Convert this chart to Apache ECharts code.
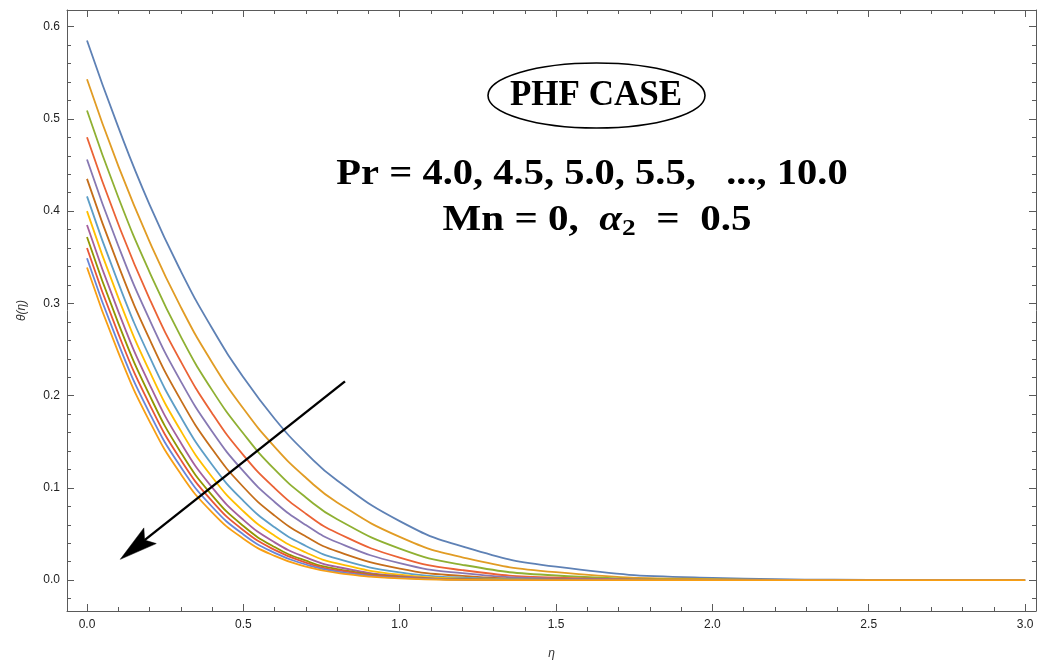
<!DOCTYPE html>
<html><head><meta charset="utf-8">
<script src="https://cdn.jsdelivr.net/npm/echarts@6/dist/echarts.min.js"></script>
<style>html,body{margin:0;padding:0;background:#fff}#c{width:1038px;height:665px}</style>
</head><body><div id="c"></div>
<script>
// ---- data ----
const eta = [0, 0.1, 0.2, 0.3, 0.4, 0.5, 0.6, 0.7, 0.8, 1.0, 1.2, 1.5, 2.0, 2.5, 3.0];
const prLabels = ['4.0','4.5','5.0','5.5','6.0','6.5','7.0','7.5','8.0','8.5','9.0','9.5','10.0'];
const thetaPr40  = [0.585,0.491,0.407,0.335,0.273,0.220,0.175,0.138,0.108,0.064,0.0366,0.0146,0.0026,0.0004,0];
const thetaPr45  = [0.543,0.449,0.367,0.296,0.236,0.186,0.1445,0.111,0.0843,0.0469,0.0248,0.0087,0.0012,0.0001,0];
const thetaPr50  = [0.509,0.415,0.334,0.264,0.206,0.159,0.120,0.0897,0.066,0.0342,0.0167,0.0051,0.0005,0,0];
const thetaPr55  = [0.480,0.386,0.305,0.237,0.181,0.1355,0.0998,0.0721,0.0512,0.0245,0.0109,0.0028,0.0002,0,0];
const thetaPr60  = [0.456,0.3625,0.2824,0.2155,0.1612,0.1181,0.0848,0.0597,0.0411,0.0184,0.0076,0.0017,0.0001,0,0];
const thetaPr65  = [0.435,0.3414,0.2613,0.1952,0.1422,0.1010,0.0700,0.0473,0.0312,0.0126,0.0046,0.0008,0,0,0];
const thetaPr70  = [0.416,0.3222,0.2422,0.1768,0.1251,0.0860,0.0573,0.0371,0.0233,0.0084,0.0027,0.0004,0,0,0];
const thetaPr75  = [0.400,0.3062,0.2265,0.1619,0.1118,0.0747,0.0482,0.0300,0.0181,0.0059,0.0017,0.0002,0,0,0];
const thetaPr80  = [0.385,0.2914,0.2123,0.1489,0.1006,0.0654,0.0410,0.0247,0.0143,0.0043,0.0011,0.0001,0,0,0];
const thetaPr85  = [0.372,0.2787,0.2005,0.1385,0.0920,0.0587,0.0359,0.0211,0.0119,0.0034,0.0008,0,0,0,0];
const thetaPr90  = [0.360,0.2672,0.1905,0.1304,0.0857,0.0541,0.0328,0.0191,0.0107,0.0030,0.0007,0,0,0,0];
const thetaPr95  = [0.349,0.2567,0.1811,0.1226,0.0796,0.0496,0.0296,0.0170,0.0093,0.0025,0.0006,0,0,0,0];
const thetaPr100 = [0.339,0.2470,0.1722,0.1150,0.0735,0.0450,0.0263,0.0148,0.0079,0.0020,0.0004,0,0,0,0];
const xTickLabels = [0, 0.5, 1.0, 1.5, 2.0, 2.5, 3.0];
const yTickLabels = [0, 0.1, 0.2, 0.3, 0.4, 0.5, 0.6];
const arrowFrom = [0.825, 0.2155];
const arrowTo = [0.1064, 0.0226];

// ---- styling ----
const seriesData = [thetaPr40,thetaPr45,thetaPr50,thetaPr55,thetaPr60,thetaPr65,thetaPr70,thetaPr75,thetaPr80,thetaPr85,thetaPr90,thetaPr95,thetaPr100];
const colors = ['#5E81B5','#E19C24','#8FB032','#EB6235','#8778B3','#C56E1A','#5D9EC7','#FFBF00','#A5609D','#929600','#E95536','#6685D9','#F89F13'];
const X_MIN = -0.064, X_MAX = 3.035, Y_MIN = -0.0334, Y_MAX = 0.618;
const FRAME = '#5a5a5a';
const xMinor = [], yMinor = [];
for (let i = 1; i < 30; i++) if (i % 5) xMinor.push(+(i * 0.1).toFixed(2));
for (let i = -1; i <= 30; i++) if (i % 5) yMinor.push(+(i * 0.02).toFixed(3));

function axisCommon(min, max, pos, vals, len, showLine, showLabel, margin) {
  return {
    type: 'value', position: pos, min: min, max: max, scale: false,
    axisLine: {show: showLine, onZero: false, lineStyle: {color: FRAME, width: 1}},
    axisTick: {show: true, inside: true, length: len, customValues: vals, lineStyle: {color: FRAME, width: 1}},
    axisLabel: {show: showLabel, customValues: vals, margin: margin, color: '#222',
      fontFamily: 'Liberation Sans', fontSize: 12, formatter: v => Number(v).toFixed(1)},
    splitLine: {show: false}, minorTick: {show: false}, minorSplitLine: {show: false}
  };
}
const xAxes = [
  Object.assign(axisCommon(X_MIN, X_MAX, 'bottom', xTickLabels, 7, true, true, 8),
    {name: 'η', nameLocation: 'middle', nameGap: 37,
     nameTextStyle: {fontFamily: 'Liberation Sans', fontStyle: 'italic', fontSize: 12, color: '#333'}}),
  axisCommon(X_MIN, X_MAX, 'bottom', xMinor, 4, false, false, 8),
  axisCommon(X_MIN, X_MAX, 'top', xTickLabels, 7, true, false, 8),
  axisCommon(X_MIN, X_MAX, 'top', xMinor, 4, false, false, 8)
];
const yAxes = [
  Object.assign(axisCommon(Y_MIN, Y_MAX, 'left', yTickLabels, 7, true, true, 7),
    {name: 'θ(η)', nameLocation: 'middle', nameGap: 39, nameRotate: 90,
     nameTextStyle: {fontFamily: 'Liberation Sans', fontStyle: 'italic', fontSize: 12, color: '#333'}}),
  axisCommon(Y_MIN, Y_MAX, 'left', yMinor, 4, false, false, 7),
  axisCommon(Y_MIN, Y_MAX, 'right', yTickLabels, 7, true, false, 7),
  axisCommon(Y_MIN, Y_MAX, 'right', yMinor, 4, false, false, 7)
];

const series = seriesData.map((arr, k) => ({
  name: 'Pr = ' + prLabels[k], type: 'line', xAxisIndex: 0, yAxisIndex: 0,
  data: eta.map((x, i) => [x, arr[i]]),
  showSymbol: false, smooth: 0.5,
  lineStyle: {color: colors[k], width: 1.8}, itemStyle: {color: colors[k]},
  z: 2 + k, silent: true
}));

const chart = echarts.init(document.getElementById('c'), null, {renderer: 'canvas'});
chart.setOption({
  animation: false, backgroundColor: '#fff',
  grid: {left: 67, right: 2, top: 10, bottom: 50, containLabel: false},
  xAxis: xAxes, yAxis: yAxes, series: series
});

// annotations
const serif = 'Liberation Serif';
const p0 = chart.convertToPixel({xAxisIndex: 0, yAxisIndex: 0}, arrowFrom);
const p1 = chart.convertToPixel({xAxisIndex: 0, yAxisIndex: 0}, arrowTo);
const dx = p0[0] - p1[0], dy = p0[1] - p1[1], L = Math.hypot(dx, dy);
const ux = dx / L, uy = dy / L, nx = -uy, ny = ux;
const HL = 38, HW = 10, NOTCH = 31;
const headPts = [
  [p1[0], p1[1]],
  [p1[0] + HL * ux + HW * nx, p1[1] + HL * uy + HW * ny],
  [p1[0] + NOTCH * ux, p1[1] + NOTCH * uy],
  [p1[0] + HL * ux - HW * nx, p1[1] + HL * uy - HW * ny]
];
chart.setOption({
  graphic: [
    {type: 'ellipse', shape: {cx: 596.5, cy: 95.5, rx: 108.5, ry: 32.5},
     style: {fill: 'none', stroke: '#000', lineWidth: 1.6}, z: 100},
    {type: 'text', x: 596, y: 96, z: 101,
     style: {text: 'PHF CASE', font: 'bold 35px "Liberation Serif"', fill: '#000', align: 'center', verticalAlign: 'middle'}},
    {type: 'text', x: 592, y: 175, z: 101, scaleX: 1.125,
     style: {text: 'Pr = 4.0, 4.5, 5.0, 5.5,   ..., 10.0', font: 'bold 36px "Liberation Serif"', fill: '#000', align: 'center', verticalAlign: 'middle'}},
    {type: 'text', x: 597, y: 221, z: 101, scaleX: 1.14,
     style: {
       text: '{b|Mn = 0,  }{a|α}{s|2}{b|  =  0.5}', align: 'center', verticalAlign: 'middle',
       rich: {
         b: {fontFamily: serif, fontWeight: 'bold', fontSize: 36, lineHeight: 40, color: '#000'},
         a: {fontFamily: serif, fontWeight: 'bold', fontStyle: 'italic', fontSize: 36, lineHeight: 40, color: '#000'},
         s: {fontFamily: serif, fontWeight: 'bold', fontSize: 24, lineHeight: 10, verticalAlign: 'bottom', color: '#000'}
       }
     }},
    {type: 'line', z: 100, shape: {x1: p0[0], y1: p0[1], x2: headPts[2][0], y2: headPts[2][1]},
     style: {stroke: '#000', lineWidth: 2.4}},
    {type: 'polygon', z: 101, shape: {points: headPts}, style: {fill: '#000', stroke: '#000', lineWidth: 0.5}}
  ]
});
</script>
</body></html>
